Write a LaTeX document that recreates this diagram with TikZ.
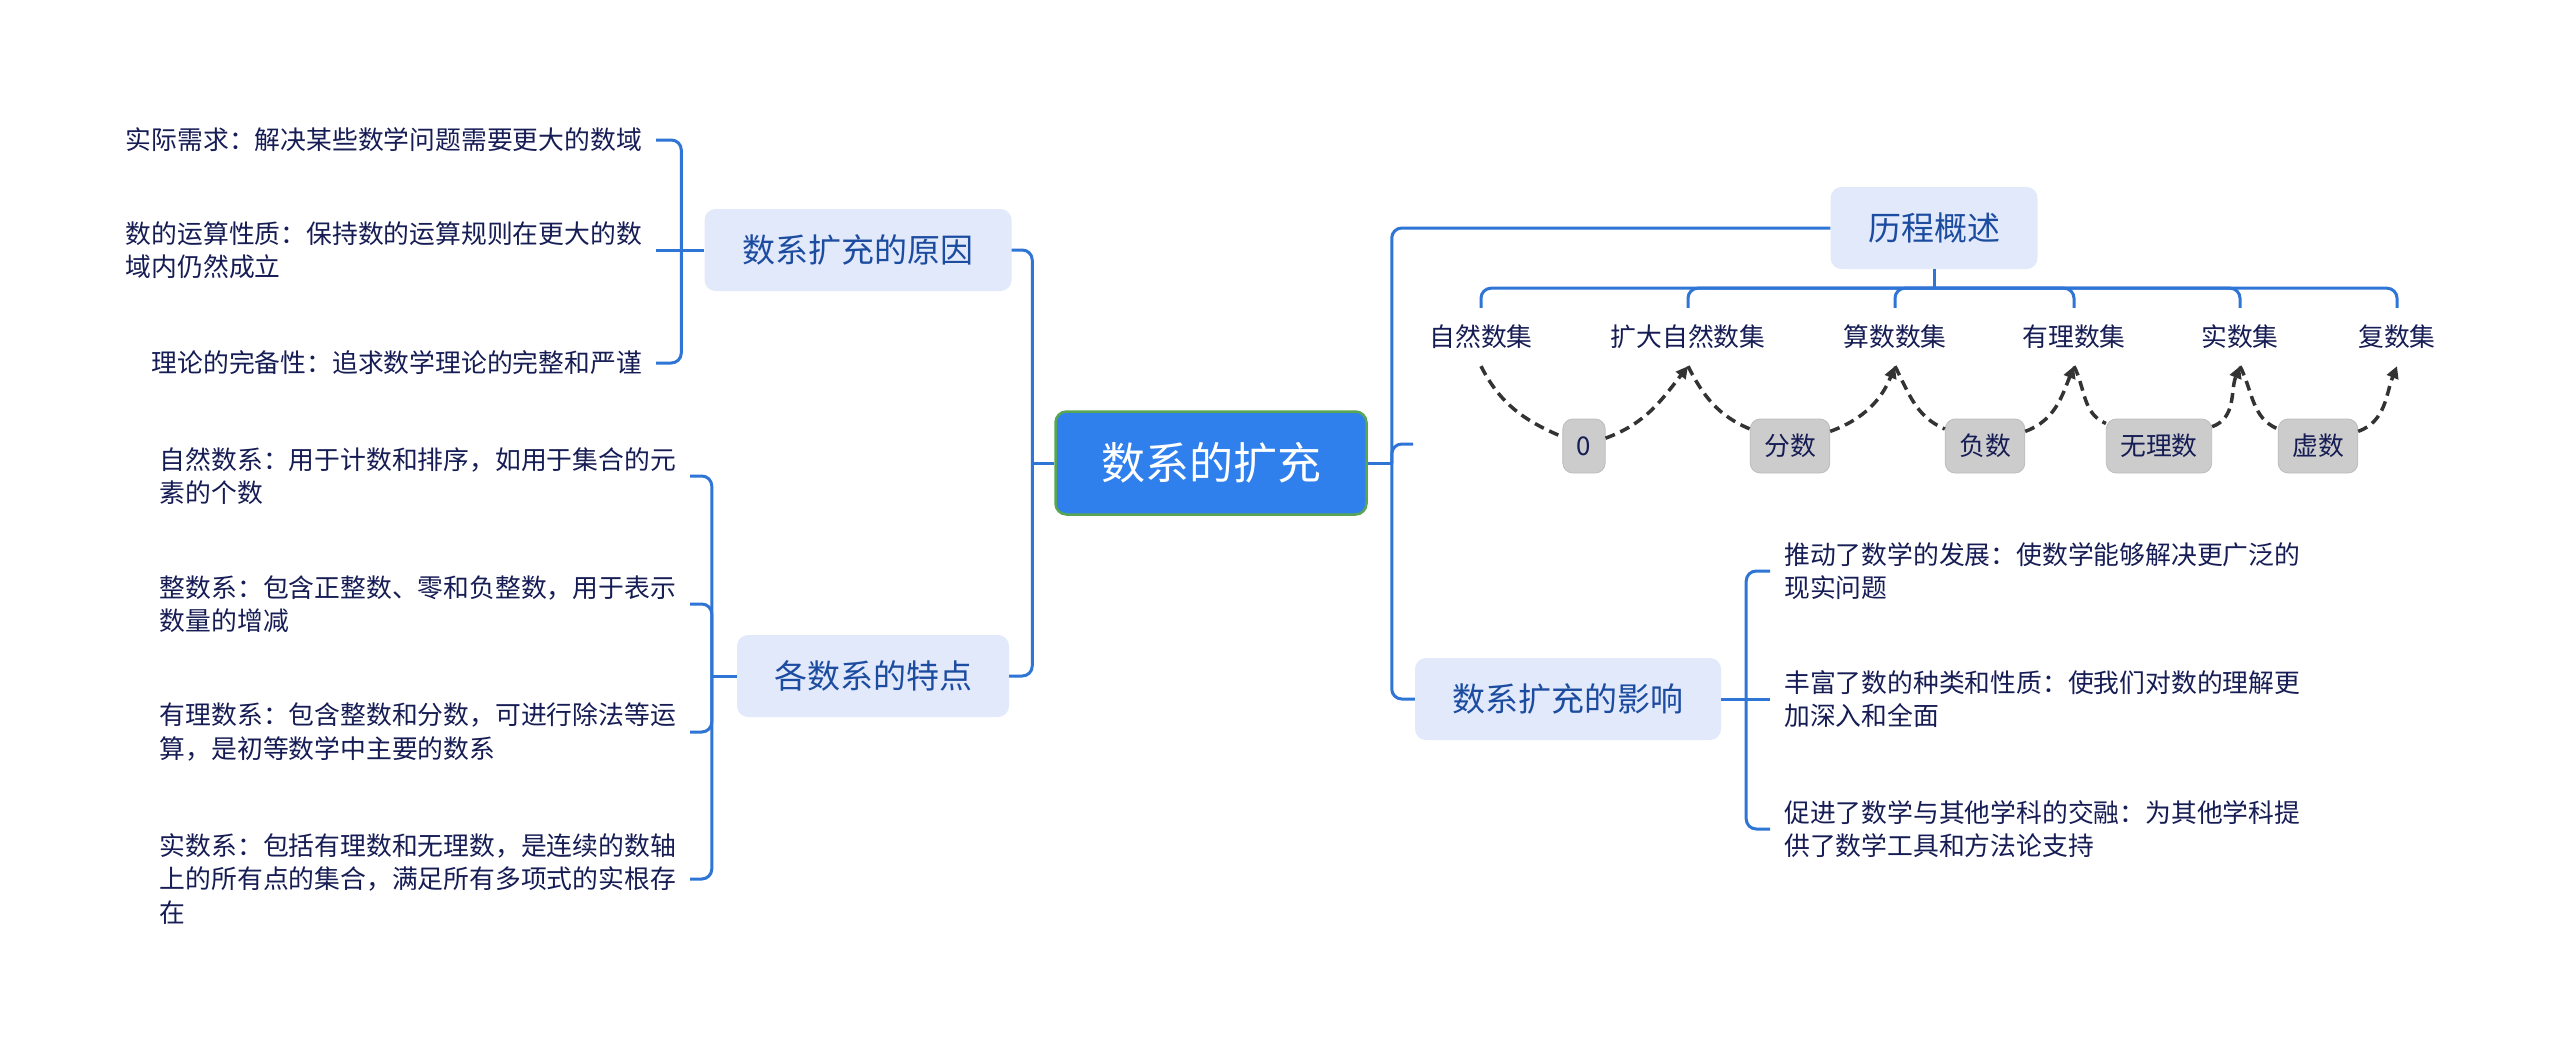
\documentclass[tikz,border=0pt]{standalone}
\usepackage{fontspec}
\setmainfont{Noto Sans CJK SC}
\usetikzlibrary{arrows.meta}
\definecolor{connblue}{RGB}{46,117,214}
\definecolor{boxfill}{RGB}{226,233,251}
\definecolor{boxtext}{RGB}{28,76,160}
\definecolor{leaftext}{RGB}{22,28,84}
\definecolor{mainfill}{RGB}{47,128,237}
\definecolor{maingreen}{RGB}{88,165,84}
\definecolor{chipfill}{RGB}{204,204,204}
\definecolor{chipdraw}{RGB}{188,188,188}
\definecolor{hopcol}{RGB}{51,51,51}
\begin{document}
\begin{tikzpicture}[x=1pt,y=1pt,
  conn/.style={draw=connblue, line width=3pt, rounded corners=10pt},
  central/.style={rounded corners=11pt, fill=mainfill, draw=maingreen, line width=2.5pt, text=white,
    font=\fontsize{44}{50}\selectfont, minimum width=311pt, minimum height=103pt, inner sep=0pt},
  topic/.style={rounded corners=11pt, fill=boxfill, text=boxtext, font=\fontsize{33}{40}\selectfont,
    minimum height=82pt, inner sep=0pt},
  leaf/.style={text=leaftext, font=\fontsize{25.8}{33.5}\selectfont, align=left, inner xsep=14pt, inner ysep=4pt},
  setlbl/.style={text=leaftext, font=\fontsize{25.8}{30}\selectfont, minimum height=58pt, inner sep=0pt},
  chip/.style={rounded corners=10pt, fill=chipfill, draw=chipdraw, line width=0.8pt, text=leaftext,
    font=\fontsize{25.8}{30}\selectfont, minimum height=54pt, inner xsep=14pt, inner ysep=0pt},
  hopline/.style={draw=hopcol, line width=3.5pt, dash pattern=on 10pt off 6pt},
  hoparrow/.style={hopline, -{Triangle[length=12pt,width=12pt]}}
]
\useasboundingbox (0,0) rectangle (2560,-1050);
\fill[white] (0,0) rectangle (2560,-1050);

% central
\node[central] (main) at (1211,-463) {数系的扩充};

% topics
\node[topic, minimum width=307pt] (why) at (858,-250) {数系扩充的原因};
\node[topic, minimum width=272pt] (feat) at (873,-676) {各数系的特点};
\node[topic, minimum width=207pt] (hist) at (1934,-228) {历程概述};
\node[topic, minimum width=306pt] (impact) at (1568,-699) {数系扩充的影响};
\coordinate (blank) at (1413,-444);

% reasons
\node[leaf, anchor=east] (w1) at (656,-140) {实际需求：解决某些数学问题需要更大的数域};
\node[leaf, anchor=east] (w2) at (656,-250) {数的运算性质：保持数的运算规则在更大的数\\域内仍然成立};
\node[leaf, anchor=east] (w3) at (656,-363) {理论的完备性：追求数学理论的完整和严谨};

% features
\node[leaf, anchor=east] (f1) at (690,-476) {自然数系：用于计数和排序，如用于集合的元\\素的个数};
\node[leaf, anchor=east] (f2) at (690,-604) {整数系：包含正整数、零和负整数，用于表示\\数量的增减};
\node[leaf, anchor=east] (f3) at (690,-732) {有理数系：包含整数和分数，可进行除法等运\\算，是初等数学中主要的数系};
\node[leaf, anchor=east] (f4) at (690,-879) {实数系：包括有理数和无理数，是连续的数轴\\上的所有点的集合，满足所有多项式的实根存\\在};

% impacts
\node[leaf, anchor=west] (i1) at (1770,-571) {推动了数学的发展：使数学能够解决更广泛的\\现实问题};
\node[leaf, anchor=west] (i2) at (1770,-699) {丰富了数的种类和性质：使我们对数的理解更\\加深入和全面};
\node[leaf, anchor=west] (i3) at (1770,-829) {促进了数学与其他学科的交融：为其他学科提\\供了数学工具和方法论支持};

% history labels
\node[setlbl] (s1) at (1481,-337) {自然数集};
\node[setlbl] (s2) at (1688,-337) {扩大自然数集};
\node[setlbl] (s3) at (1895,-337) {算数数集};
\node[setlbl] (s4) at (2074,-337) {有理数集};
\node[setlbl] (s5) at (2240,-337) {实数集};
\node[setlbl] (s6) at (2397,-337) {复数集};

% chips
\node[chip] (k1) at (1584,-446) {0};
\node[chip] (k2) at (1790,-446) {分数};
\node[chip] (k3) at (1985,-446) {负数};
\node[chip] (k4) at (2159,-446) {无理数};
\node[chip] (k5) at (2318,-446) {虚数};

% connectors: central
\draw[conn] (main.west) -- ++(-22,0) coordinate (lj);
\draw[conn] (lj) |- (why.east);
\draw[conn] (lj) |- (feat.east);
\draw[conn] (main.east) -- ++(24,0) coordinate (rj);
\draw[conn] (rj) |- (hist.west);
\draw[conn] (rj) |- (blank);
\draw[conn] (rj) |- (impact.west);

% reasons
\draw[conn] (why.west) -- ++(-23,0) coordinate (wj);
\draw[conn] (wj) |- (w1.east);
\draw[conn] (wj) -- (w2.east);
\draw[conn] (wj) |- (w3.east);

% features
\draw[conn] (feat.west) -- ++(-25,0) coordinate (fj);
\draw[conn] (fj) |- (f1.east);
\draw[conn] (fj) |- (f2.east);
\draw[conn] (fj) |- (f3.east);
\draw[conn] (fj) |- (f4.east);

% impacts
\draw[conn] (impact.east) -- ++(25,0) coordinate (ij);
\draw[conn] (ij) |- (i1.west);
\draw[conn] (ij) -- (i2.west);
\draw[conn] (ij) |- (i3.west);

% history bracket
\draw[conn] (hist.south) -- ++(0,-19) coordinate (hj);
\foreach \s in {s1,s2,s3,s4,s5,s6} {
  \draw[conn] (hj) -| (\s.north);
}

% hops
\draw[hopline] (s1.south) to[out=-63,in=157] (k1);
\draw[hoparrow] (k1) to[out=20,in=-128] (s2.south);
\draw[hopline] (s2.south) to[out=-63,in=157] (k2);
\draw[hoparrow] (k2) to[out=20,in=-112] (s3.south);
\draw[hopline] (s3.south) to[out=-63,in=157] (k3);
\draw[hoparrow] (k3) to[out=20,in=-112] (s4.south);
\draw[hopline] (s4.south) to[out=-63,in=157] (k4);
\draw[hoparrow] (k4) to[out=20,in=-112] (s5.south);
\draw[hopline] (s5.south) to[out=-63,in=157] (k5);
\draw[hoparrow] (k5) to[out=20,in=-112] (s6.south);
\end{tikzpicture}
\end{document}
